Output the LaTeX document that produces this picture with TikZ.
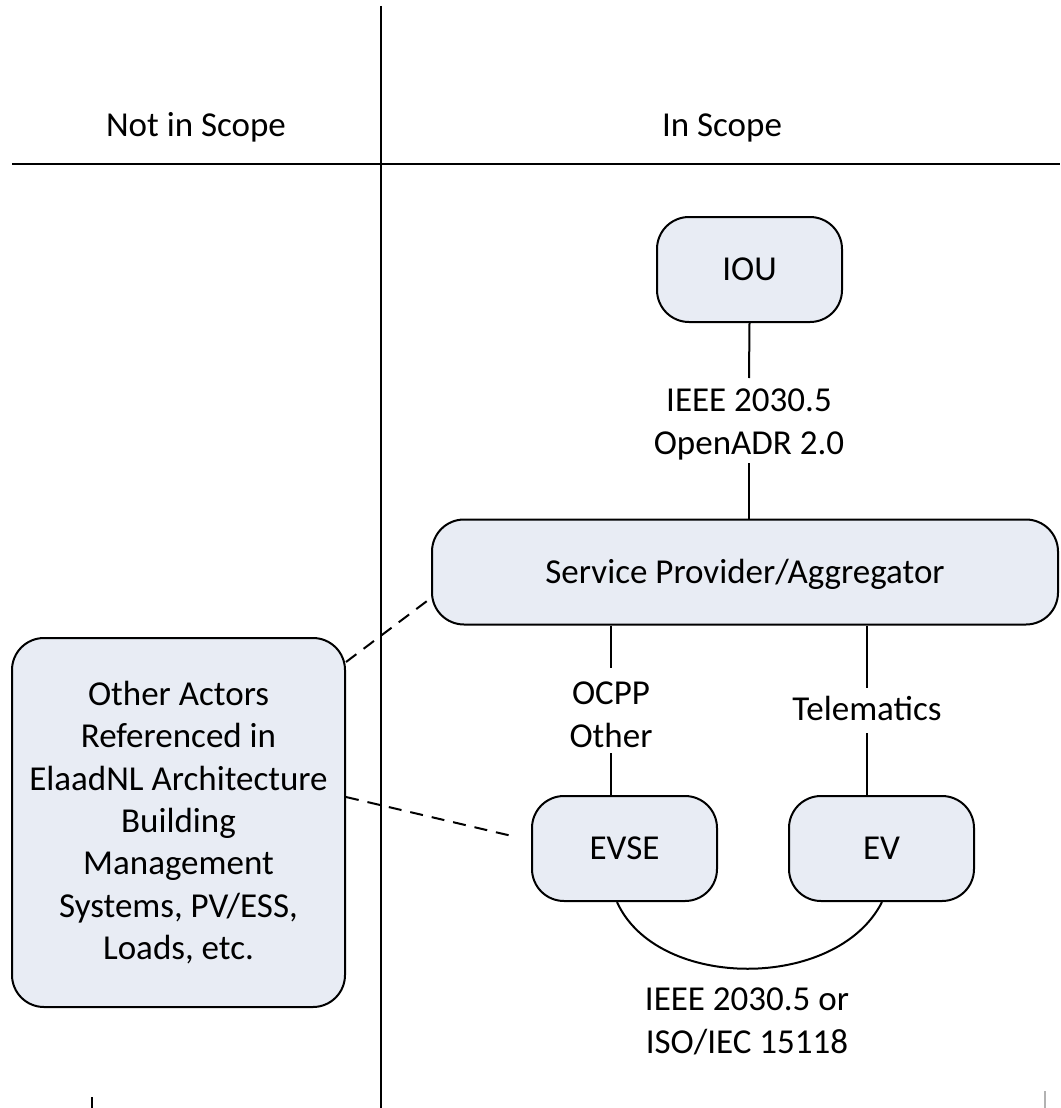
\documentclass[tikz,border=0pt]{standalone}
\usepackage{fontspec}
\setmainfont{Carlito}
\usetikzlibrary{calc}
\definecolor{boxfill}{RGB}{232,236,244}
\newcommand{\labelfont}{\fontsize{35}{42.3}\selectfont}
\begin{document}
\begin{tikzpicture}[x=1pt,y=-1pt,
  base box/.style={draw, line width=2pt, fill=boxfill, rounded corners=32pt,
    inner sep=0pt, font=\labelfont},
  actor/.style={base box, minimum height=105pt, text height=22.5pt, text depth=0pt},
  proto/.style={inner sep=0pt, font=\labelfont, align=center},
  link/.style={line width=2pt},
  ref/.style={line width=2pt, dash pattern=on 13pt off 9pt}
]
\useasboundingbox (0,0) rectangle (1060,1108);

% scope divider
\draw[link] (381,6) -- (381,1108);
\draw[link] (12,164) -- (1060,164);
\node[proto, anchor=base] (outscope) at (196,136) {Not in Scope};
\node[proto, anchor=base] (inscope) at (722,136) {In Scope};

% actors
\node[actor, minimum width=185pt] (iou) at (749.5,269.5) {IOU};
\node[actor, minimum width=626pt] (spa) at (745,572) {Service Provider/Aggregator};
\node[actor, minimum width=185pt] (evse) at (624.5,848.5) {EVSE};
\node[actor, minimum width=185pt] (ev) at (881.5,848.5) {EV};
\node[base box, minimum width=333pt, minimum height=369pt, align=center] (other) at (178.5,822.5)
  {Other Actors\\Referenced in\\ElaadNL Architecture\\Building\\Management\\Systems, PV/ESS,\\Loads, etc.};

% protocol labels
\node[proto, anchor=north] (p1) at (749,389) {IEEE 2030.5\\OpenADR 2.0};
\node[proto, anchor=north] (p2) at (611,682) {OCPP\\Other};
\node[proto, anchor=base] (p3) at (867,720) {Telematics};
\node[proto, anchor=north] (p4) at (747,988) {IEEE 2030.5 or\\ISO/IEC 15118};

% gap ends of the labelled links
\coordinate (a1) at (749,378);
\coordinate (a2) at (749,463);
\coordinate (b1) at (611,668);
\coordinate (b2) at (611,753);
\coordinate (c1) at (867,688);
\coordinate (c2) at (867,733);

% links
\draw[link] (iou.south) -- (a1);
\draw[link] (a2) -- (a2 |- spa.north);
\draw[link] (b1 |- spa.south) -- (b1);
\draw[link] (b2) -- (b2 |- evse.north);
\draw[link] (c1 |- spa.south) -- (c1);
\draw[link] (c2) -- (c2 |- ev.north);
\draw[link] ($(evse.south)+(-7.5,0)$) .. controls +(40,89) and +(-45,89) .. ($(ev.south)+(0.5,0)$);

% references outside the scope
\draw[ref] ($(other.north east)+(0,25)$) -- ($(spa.west)+(0,26)$);
\draw[ref] ($(other.east)+(0,-25.5)$) -- ($(evse.west)+(-19,-12.5)$);

% page edge marks
\draw[link] (92,1097) -- (92,1108);
\draw[line width=2.5pt, gray!60] (1045,1091) -- (1045,1108);
\end{tikzpicture}
\end{document}
